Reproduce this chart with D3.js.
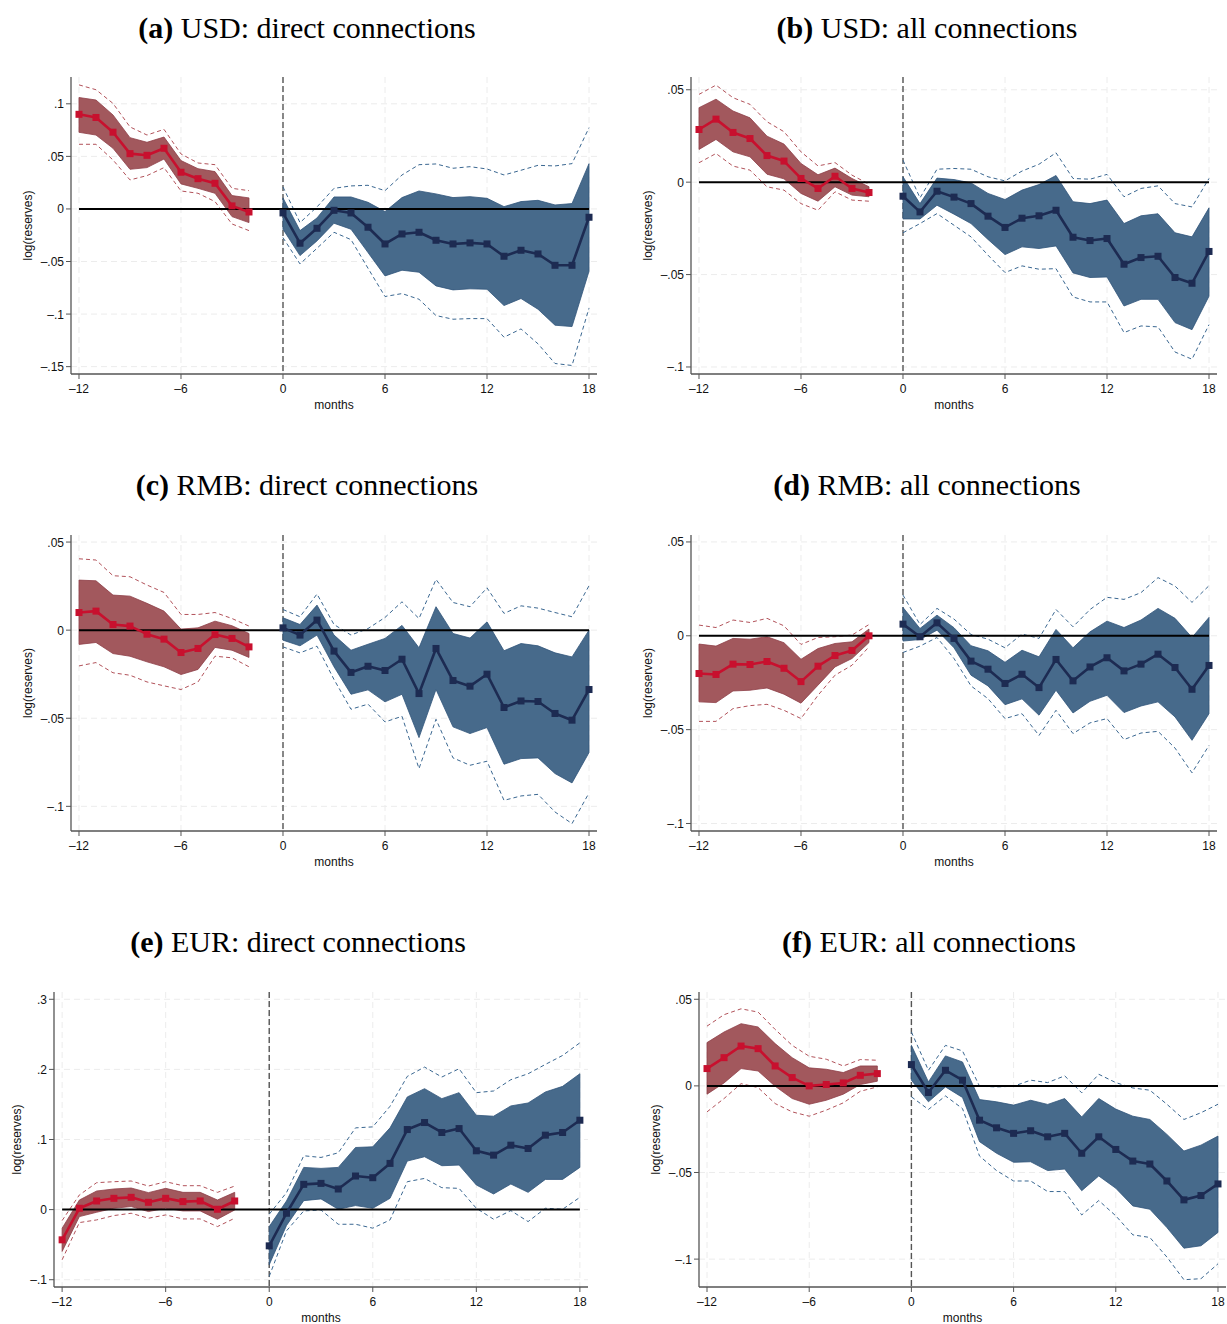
<!DOCTYPE html>
<html>
<head>
<meta charset="utf-8">
<script src="https://cdn.jsdelivr.net/npm/d3@7"></script>
<style>
  body { margin: 0; background: #fff; }
  svg { display: block; }
  .tick-label { font-family: "Liberation Sans", Arial, sans-serif; font-size: 12px; fill: #111; }
  .title { font-family: "Liberation Serif", "Times New Roman", serif; font-size: 30px; fill: #000; }
</style>
</head>
<body>
<svg></svg>
<script>
// event months (month -1 is the omitted reference period)
const months = [-12, -11, -10, -9, -8, -7, -6, -5, -4, -3, -2,
    0, 1, 2, 3, 4, 5, 6, 7, 8, 9, 10, 11, 12, 13, 14, 15, 16, 17, 18];
const xTicks = [-12, -6, 0, 6, 12, 18];

// (a) USD: direct connections
const usdDirCoef = [0.090, 0.087, 0.073, 0.0526, 0.051, 0.0577, 0.0349, 0.0288, 0.0244, 0.0029, -0.0029,
    -0.0038, -0.0326, -0.0184, -0.0013, -0.0038, -0.0174, -0.0333, -0.0238, -0.0222, -0.0298, -0.0333, -0.0323, -0.0333, -0.045, -0.0393, -0.0428, -0.0536, -0.0536, -0.0079];
const usdDirHi = [0.106, 0.1036, 0.0894, 0.0678, 0.0634, 0.0684, 0.046, 0.0383, 0.0355, 0.0127, 0.0105,
    0.0105, -0.0206, -0.0086, 0.0114, 0.0114, 0.0063, -0.0025, 0.0108, 0.0171, 0.0143, 0.0108, 0.0117, 0.0101, 0.0022, 0.007, 0.0082, 0.0038, 0.0051, 0.0431];
const usdDirLo = [0.0729, 0.0703, 0.0577, 0.0377, 0.0393, 0.0475, 0.0238, 0.0196, 0.0149, -0.0073, -0.013,
    -0.0193, -0.0444, -0.0304, -0.0136, -0.0193, -0.0415, -0.0637, -0.0583, -0.0602, -0.0732, -0.077, -0.076, -0.0764, -0.0919, -0.0852, -0.0954, -0.1106, -0.1119, -0.0593];
const usdDirHi95 = [0.118, 0.1134, 0.1004, 0.078, 0.0703, 0.0757, 0.0523, 0.0437, 0.0421, 0.0196, 0.0174,
    0.0209, -0.013, 0.0019, 0.0196, 0.0219, 0.0225, 0.0174, 0.0323, 0.0421, 0.0428, 0.0387, 0.0402, 0.038, 0.0323, 0.0368, 0.0415, 0.0409, 0.0431, 0.0773];
const usdDirLo95 = [0.0615, 0.0615, 0.0466, 0.0276, 0.0317, 0.0393, 0.0171, 0.0149, 0.007, -0.0143, -0.0206,
    -0.0273, -0.0523, -0.0374, -0.0222, -0.0292, -0.0564, -0.0833, -0.0805, -0.0859, -0.1014, -0.1049, -0.1043, -0.1043, -0.122, -0.1141, -0.1283, -0.147, -0.1489, -0.0944];

// (b) USD: all connections
const usdAllCoef = [0.0285, 0.0341, 0.0269, 0.0236, 0.0144, 0.0114, 0.002, -0.0034, 0.0032, -0.0034, -0.0056,
    -0.0076, -0.0161, -0.0049, -0.0081, -0.0116, -0.0184, -0.0245, -0.0195, -0.0182, -0.0152, -0.0298, -0.0316, -0.0305, -0.0444, -0.0408, -0.0401, -0.0516, -0.0547, -0.0375];
const usdAllHi = [0.0403, 0.0449, 0.0385, 0.0348, 0.0249, 0.0206, 0.0101, 0.004, 0.0076, 0.002, -0.0025,
    0.0029, -0.0116, 0.0022, 0.0014, -0.0004, -0.0061, -0.0094, -0.0043, -0.0013, 0.0036, -0.0106, -0.0116, -0.0097, -0.0224, -0.0182, -0.0171, -0.0274, -0.0296, -0.0139];
const usdAllLo = [0.0177, 0.0231, 0.0164, 0.0137, 0.0043, 0.0018, -0.0061, -0.0103, -0.0025, -0.007, -0.0079,
    -0.0199, -0.0199, -0.0125, -0.0173, -0.0224, -0.031, -0.0392, -0.035, -0.0359, -0.0345, -0.0491, -0.0516, -0.0513, -0.067, -0.0634, -0.0634, -0.076, -0.0798, -0.0617];
const usdAllHi95 = [0.0475, 0.0525, 0.0457, 0.0421, 0.0327, 0.0273, 0.0164, 0.0088, 0.0106, 0.0038, -0.0011,
    0.0119, -0.0085, 0.007, 0.0074, 0.007, 0.0029, 0.0007, 0.006, 0.0097, 0.0159, 0.002, 0.0016, 0.0042, -0.0079, -0.0034, -0.002, -0.0116, -0.0134, 0.002];
const usdAllLo95 = [0.0105, 0.0155, 0.0087, 0.0065, -0.0025, -0.0043, -0.0116, -0.0152, -0.0052, -0.0097, -0.0103,
    -0.0274, -0.0224, -0.017, -0.0233, -0.0296, -0.0395, -0.0489, -0.0453, -0.0471, -0.0468, -0.0621, -0.0648, -0.0648, -0.0814, -0.0778, -0.0783, -0.0919, -0.0958, -0.0771];

// (c) RMB: direct connections
const rmbDirCoef = [0.01, 0.0108, 0.0032, 0.0023, -0.0023, -0.0051, -0.0127, -0.0104, -0.0025, -0.0047, -0.0095,
    0.0013, -0.0028, 0.0057, -0.0119, -0.024, -0.0205, -0.0229, -0.0165, -0.036, -0.0104, -0.0286, -0.0318, -0.025, -0.0439, -0.0402, -0.0405, -0.0473, -0.0511, -0.0337];
const rmbDirHi = [0.0284, 0.028, 0.0199, 0.0193, 0.0152, 0.0108, 0.0006, 0.0013, 0.0051, 0.0025, -0.0019,
    0.007, 0.0032, 0.0142, -0.0028, -0.0114, -0.008, -0.0047, 0.0027, -0.01, 0.0133, -0.0019, -0.0045, 0.0047, -0.0117, -0.0076, -0.0089, -0.0129, -0.0152, 0.0];
const rmbDirLo = [-0.0081, -0.007, -0.0133, -0.0148, -0.018, -0.0208, -0.0252, -0.0223, -0.0098, -0.0114, -0.0155,
    -0.0057, -0.0089, -0.0028, -0.0208, -0.0364, -0.0339, -0.0407, -0.0364, -0.061, -0.0337, -0.0549, -0.0587, -0.0553, -0.0761, -0.0729, -0.0725, -0.0814, -0.0867, -0.0695];
const rmbDirHi95 = [0.0405, 0.0398, 0.0309, 0.0303, 0.0256, 0.0214, 0.0089, 0.0089, 0.01, 0.0066, 0.0023,
    0.0117, 0.0076, 0.0205, 0.0032, -0.0028, 0.0009, 0.0072, 0.0161, 0.0066, 0.0288, 0.0157, 0.0133, 0.024, 0.0095, 0.0138, 0.0125, 0.01, 0.0076, 0.0252];
const rmbDirLo95 = [-0.0203, -0.0184, -0.0242, -0.0256, -0.0294, -0.0316, -0.0337, -0.0294, -0.0148, -0.0157, -0.0208,
    -0.0095, -0.0129, -0.0091, -0.028, -0.0449, -0.042, -0.0521, -0.0489, -0.0786, -0.0506, -0.0725, -0.0767, -0.0744, -0.0966, -0.0941, -0.0932, -0.1032, -0.1098, -0.0924];

// (d) RMB: all connections
const rmbAllCoef = [-0.0201, -0.0206, -0.0151, -0.0153, -0.0137, -0.0173, -0.0244, -0.0162, -0.0105, -0.0078, 0.0,
    0.0062, -0.0005, 0.0069, -0.0014, -0.0135, -0.0178, -0.0254, -0.0205, -0.0276, -0.0126, -0.024, -0.0166, -0.0117, -0.0187, -0.0151, -0.0098, -0.0169, -0.0285, -0.0158];
const rmbAllHi = [-0.0044, -0.0055, -0.0014, -0.0018, -0.0005, -0.0037, -0.0125, -0.0068, -0.0041, -0.0032, 0.0036,
    0.0151, 0.0039, 0.011, 0.0043, -0.0053, -0.008, -0.0141, -0.0077, -0.0112, 0.0034, -0.0064, 0.0021, 0.0078, 0.0044, 0.0084, 0.0146, 0.0093, -0.0009, 0.0098];
const rmbAllLo = [-0.0352, -0.0356, -0.0294, -0.029, -0.0278, -0.0311, -0.0359, -0.0263, -0.0166, -0.0121, -0.0036,
    -0.0028, -0.002, 0.003, -0.0064, -0.021, -0.0267, -0.0367, -0.0336, -0.0423, -0.029, -0.0411, -0.0349, -0.0317, -0.0409, -0.0374, -0.0352, -0.0432, -0.0557, -0.0415];
const rmbAllHi95 = [0.0057, 0.0044, 0.0084, 0.0071, 0.0093, 0.0053, -0.0046, -0.0009, -0.0005, 0.0004, 0.006,
    0.0217, 0.006, 0.0146, 0.0089, 0.0007, -0.0018, -0.0064, 0.0009, -0.0014, 0.014, 0.0048, 0.014, 0.0205, 0.0194, 0.023, 0.031, 0.0265, 0.0178, 0.0267];
const rmbAllLo95 = [-0.0456, -0.0456, -0.0388, -0.0372, -0.0365, -0.0397, -0.0441, -0.0317, -0.021, -0.0157, -0.0059,
    -0.0089, -0.0055, -0.0009, -0.0121, -0.0267, -0.0335, -0.0441, -0.0415, -0.0531, -0.0397, -0.0521, -0.0464, -0.0441, -0.0553, -0.0518, -0.0509, -0.0598, -0.073, -0.0584];

// (e) EUR: direct connections
const eurDirCoef = [-0.0431, 0.0019, 0.0123, 0.0161, 0.0175, 0.0104, 0.0161, 0.0114, 0.0123, 0.0005, 0.0123,
    -0.0517, -0.0052, 0.036, 0.0374, 0.0294, 0.0479, 0.0455, 0.0659, 0.1142, 0.1242, 0.11, 0.1156, 0.0839, 0.0777, 0.0919, 0.0872, 0.1062, 0.11, 0.1275];
const eurDirHi = [-0.0265, 0.0137, 0.0265, 0.0294, 0.0308, 0.0242, 0.0303, 0.0246, 0.0246, 0.0137, 0.0246,
    -0.0242, 0.0123, 0.0602, 0.0588, 0.0602, 0.0886, 0.0896, 0.1166, 0.1607, 0.1725, 0.1583, 0.1668, 0.1346, 0.1332, 0.1479, 0.1521, 0.1678, 0.1758, 0.1938];
const eurDirLo = [-0.0597, -0.01, -0.0038, 0.0019, 0.0043, -0.0028, 0.0019, -0.0019, -0.0019, -0.0137, -0.0005,
    -0.0787, -0.0227, 0.0128, 0.0152, 0.0005, 0.0057, 0.0019, 0.0161, 0.0692, 0.0754, 0.0626, 0.0635, 0.0351, 0.0223, 0.0365, 0.0246, 0.0431, 0.0431, 0.0602];
const eurDirHi95 = [-0.0156, 0.0209, 0.0384, 0.0398, 0.0408, 0.0336, 0.0398, 0.0341, 0.0341, 0.0246, 0.0336,
    -0.0066, 0.0242, 0.0768, 0.0744, 0.081, 0.1166, 0.118, 0.1474, 0.19, 0.2033, 0.1891, 0.2009, 0.1668, 0.1692, 0.1853, 0.1938, 0.2071, 0.2199, 0.2379];
const eurDirLo95 = [-0.0716, -0.0185, -0.0147, -0.0085, -0.0052, -0.0123, -0.0076, -0.0133, -0.0133, -0.0242, -0.0123,
    -0.0953, -0.0303, -0.0019, -0.0005, -0.0209, -0.0209, -0.0265, -0.0147, 0.0398, 0.0445, 0.0313, 0.0303, 0.0019, -0.0137, -0.0014, -0.0171, 0.0019, 0.0005, 0.0175];

// (f) EUR: all connections
const eurAllCoef = [0.01, 0.0163, 0.023, 0.0215, 0.0115, 0.0048, 0.0, 0.0008, 0.0017, 0.0061, 0.0071,
    0.0123, -0.0038, 0.009, 0.0033, -0.0198, -0.0242, -0.0274, -0.0259, -0.0294, -0.0274, -0.0389, -0.0294, -0.0367, -0.0434, -0.0451, -0.0549, -0.0658, -0.0633, -0.0566];
const eurAllHi = [0.025, 0.0311, 0.0359, 0.034, 0.0244, 0.0163, 0.0104, 0.0096, 0.0077, 0.0115, 0.0115,
    0.0234, 0.0023, 0.0173, 0.0138, -0.0079, -0.0092, -0.0111, -0.0083, -0.0107, -0.0073, -0.0179, -0.0073, -0.0134, -0.0175, -0.0194, -0.028, -0.0376, -0.0342, -0.029];
const eurAllLo = [-0.0048, 0.0017, 0.01, 0.0086, -0.0002, -0.0073, -0.0106, -0.0083, -0.0048, 0.0008, 0.0027,
    0.0033, -0.0092, -0.0006, -0.0067, -0.0322, -0.0389, -0.0441, -0.0438, -0.0489, -0.048, -0.0605, -0.052, -0.0591, -0.0693, -0.0712, -0.0818, -0.0937, -0.0923, -0.0846];
const eurAllHi95 = [0.0345, 0.0411, 0.0445, 0.0426, 0.0326, 0.0234, 0.0171, 0.0154, 0.0115, 0.0152, 0.0148,
    0.0311, 0.009, 0.0234, 0.0202, -0.0002, -0.0006, -0.0002, 0.0033, 0.0019, 0.0058, -0.004, 0.0067, 0.0019, -0.0012, -0.0025, -0.0106, -0.0194, -0.0155, -0.0106];
const eurAllLo95 = [-0.015, -0.0073, 0.0013, -0.001, -0.0102, -0.015, -0.0175, -0.014, -0.0098, -0.0031, -0.0006,
    -0.0063, -0.0136, -0.0058, -0.0131, -0.0405, -0.0489, -0.0549, -0.0549, -0.061, -0.061, -0.0745, -0.0662, -0.075, -0.086, -0.0875, -0.0988, -0.1119, -0.1113, -0.1027];

const panels = [
    { tag: '(a)', title: 'USD: direct connections', coef: usdDirCoef, lo: usdDirLo, hi: usdDirHi, lo95: usdDirLo95, hi95: usdDirHi95,
      yDomain: [-0.157, 0.1255], yTicks: [-0.15, -0.1, -0.05, 0, 0.05, 0.1], box: { x: 71, y: 77, w: 526, h: 297 }, titleX: 307, titleY: 38 },
    { tag: '(b)', title: 'USD: all connections', coef: usdAllCoef, lo: usdAllLo, hi: usdAllHi, lo95: usdAllLo95, hi95: usdAllHi95,
      yDomain: [-0.1038, 0.0569], yTicks: [-0.1, -0.05, 0, 0.05], box: { x: 691, y: 77, w: 526, h: 297 }, titleX: 927, titleY: 38 },
    { tag: '(c)', title: 'RMB: direct connections', coef: rmbDirCoef, lo: rmbDirLo, hi: rmbDirHi, lo95: rmbDirLo95, hi95: rmbDirHi95,
      yDomain: [-0.114, 0.054], yTicks: [-0.1, -0.05, 0, 0.05], box: { x: 71, y: 535, w: 526, h: 296 }, titleX: 307, titleY: 495 },
    { tag: '(d)', title: 'RMB: all connections', coef: rmbAllCoef, lo: rmbAllLo, hi: rmbAllHi, lo95: rmbAllLo95, hi95: rmbAllHi95,
      yDomain: [-0.104, 0.0537], yTicks: [-0.1, -0.05, 0, 0.05], box: { x: 691, y: 535, w: 526, h: 296 }, titleX: 927, titleY: 495 },
    { tag: '(e)', title: 'EUR: direct connections', coef: eurDirCoef, lo: eurDirLo, hi: eurDirHi, lo95: eurDirLo95, hi95: eurDirHi95,
      yDomain: [-0.1104, 0.3104], yTicks: [-0.1, 0, 0.1, 0.2, 0.3], box: { x: 54, y: 992, w: 534, h: 295 }, titleX: 298, titleY: 952 },
    { tag: '(f)', title: 'EUR: all connections', coef: eurAllCoef, lo: eurAllLo, hi: eurAllHi, lo95: eurAllLo95, hi95: eurAllHi95,
      yDomain: [-0.1161, 0.0542], yTicks: [-0.1, -0.05, 0, 0.05], box: { x: 699, y: 992, w: 527, h: 295 }, titleX: 929, titleY: 952 }
];

const colors = {
    pre: { fill: '#a2585d', edge: '#8e3f47', line: '#c8102e', dash: '#b2525a' },
    post: { fill: '#476a8b', edge: '#30547a', line: '#1d2b52', dash: '#3a6791' }
};

const svg = d3.select('svg').attr('width', 1227).attr('height', 1324);

// Stata style tick labels: .05, –.1, 0
function fmt(v) {
    if (v === 0) return '0';
    return (v < 0 ? '\u2013' : '') + String(Math.abs(v)).replace(/^0/, '');
}

function drawPanel(p) {
    const b = p.box;
    const x = d3.scaleLinear().domain([-12.47, 18.47]).range([b.x, b.x + b.w]);
    const y = d3.scaleLinear().domain(p.yDomain).range([b.y + b.h, b.y]);
    const g = svg.append('g');

    // grid
    g.append('g').selectAll('line')
        .data(p.yTicks).enter().append('line')
        .attr('x1', b.x).attr('x2', b.x + b.w)
        .attr('y1', d => y(d)).attr('y2', d => y(d))
        .attr('stroke', '#ececec').attr('stroke-width', 1).attr('stroke-dasharray', '6,4');
    g.append('g').selectAll('line')
        .data(xTicks).enter().append('line')
        .attr('x1', d => x(d)).attr('x2', d => x(d))
        .attr('y1', b.y).attr('y2', b.y + b.h)
        .attr('stroke', '#ececec').attr('stroke-width', 1).attr('stroke-dasharray', '6,4');

    // event line at month 0
    g.append('line')
        .attr('x1', x(0)).attr('x2', x(0))
        .attr('y1', b.y).attr('y2', b.y + b.h)
        .attr('stroke', '#555').attr('stroke-width', 1.4).attr('stroke-dasharray', '6,3');

    const rows = months.map((m, i) => ({ m: m, c: p.coef[i], lo: p.lo[i], hi: p.hi[i], lo95: p.lo95[i], hi95: p.hi95[i] }));
    const parts = [
        { key: 'pre', rows: rows.filter(r => r.m < 0) },
        { key: 'post', rows: rows.filter(r => r.m >= 0) }
    ];

    const area = d3.area().x(d => x(d.m)).y0(d => y(d.lo)).y1(d => y(d.hi));
    const line = key => d3.line().x(d => x(d.m)).y(d => y(d[key]));

    parts.forEach(part => {
        const c = colors[part.key];
        g.append('path').datum(part.rows)
            .attr('d', area)
            .attr('fill', c.fill).attr('stroke', c.edge).attr('stroke-width', 0.8);
        ['hi95', 'lo95'].forEach(k => {
            g.append('path').datum(part.rows)
                .attr('d', line(k))
                .attr('fill', 'none').attr('stroke', c.dash)
                .attr('stroke-width', 1).attr('stroke-dasharray', '4,3');
        });
    });

    // zero line
    g.append('line')
        .attr('x1', x(-12)).attr('x2', x(18))
        .attr('y1', y(0)).attr('y2', y(0))
        .attr('stroke', '#000').attr('stroke-width', 2);

    parts.forEach(part => {
        const c = colors[part.key];
        g.append('path').datum(part.rows)
            .attr('d', line('c'))
            .attr('fill', 'none').attr('stroke', c.line).attr('stroke-width', 2.6)
            .attr('stroke-linejoin', 'round');
        g.append('g').selectAll('rect')
            .data(part.rows).enter().append('rect')
            .attr('x', d => x(d.m) - 3.5).attr('y', d => y(d.c) - 3.5)
            .attr('width', 7).attr('height', 7)
            .attr('fill', c.line);
    });

    // axes
    g.append('line')
        .attr('x1', b.x).attr('x2', b.x).attr('y1', b.y).attr('y2', b.y + b.h)
        .attr('stroke', '#555').attr('stroke-width', 1.3);
    g.append('line')
        .attr('x1', b.x).attr('x2', b.x + b.w).attr('y1', b.y + b.h).attr('y2', b.y + b.h)
        .attr('stroke', '#555').attr('stroke-width', 1.3);

    g.append('g').selectAll('line')
        .data(p.yTicks).enter().append('line')
        .attr('x1', b.x - 5).attr('x2', b.x)
        .attr('y1', d => y(d)).attr('y2', d => y(d))
        .attr('stroke', '#555').attr('stroke-width', 1);
    const yl = g.append('g').selectAll('text')
        .data(p.yTicks).enter().append('text')
        .attr('class', 'tick-label')
        .attr('x', b.x - 7).attr('y', d => y(d) + 4.5)
        .attr('text-anchor', 'end')
        .text(fmt);

    g.append('g').selectAll('line')
        .data(xTicks).enter().append('line')
        .attr('x1', d => x(d)).attr('x2', d => x(d))
        .attr('y1', b.y + b.h).attr('y2', b.y + b.h + 5)
        .attr('stroke', '#555').attr('stroke-width', 1);
    g.append('g').selectAll('text')
        .data(xTicks).enter().append('text')
        .attr('class', 'tick-label')
        .attr('x', d => x(d)).attr('y', b.y + b.h + 19)
        .attr('text-anchor', 'middle')
        .text(fmt);

    g.append('text')
        .attr('class', 'tick-label')
        .attr('x', b.x + b.w / 2).attr('y', b.y + b.h + 35)
        .attr('text-anchor', 'middle')
        .text('months');

    let maxW = 0;
    yl.each(function() { maxW = Math.max(maxW, this.getComputedTextLength()); });
    const lx = b.x - 7 - maxW - 9;
    g.append('text')
        .attr('class', 'tick-label')
        .attr('transform', `translate(${lx},${b.y + b.h / 2}) rotate(-90)`)
        .attr('text-anchor', 'middle')
        .text('log(reserves)');

    const t = svg.append('text')
        .attr('class', 'title')
        .attr('x', p.titleX).attr('y', p.titleY)
        .attr('text-anchor', 'middle');
    t.append('tspan').attr('font-weight', 'bold').text(p.tag);
    t.append('tspan').text(' ' + p.title);
}

panels.forEach(drawPanel);
</script>
</body>
</html>
